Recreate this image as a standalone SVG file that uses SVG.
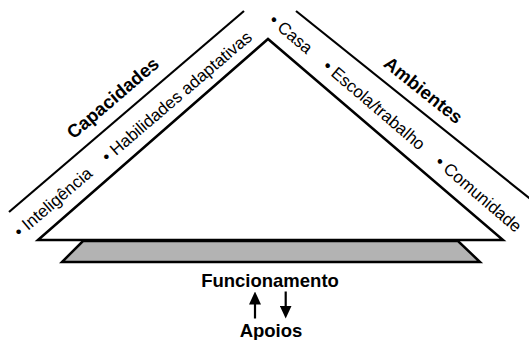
<svg xmlns="http://www.w3.org/2000/svg" width="529" height="340" viewBox="0 0 529 340">
  <style>
    text { font-family: "Liberation Sans", Arial, Helvetica, sans-serif; fill: #000; }
    .reg { font-size: 17px; }
    .bold { font-size: 18.5px; font-weight: bold; }
    .line { stroke: #000; stroke-width: 2.2; fill: none; stroke-linecap: butt; }
    .shape { stroke: #000; stroke-width: 2.5; stroke-linejoin: miter; }
  </style>
  <defs>
    <marker id="arrowhead" markerWidth="13" markerHeight="12" refX="6.5" refY="6" orient="auto-start-reverse" markerUnits="userSpaceOnUse" viewBox="0 0 13 12">
      <path d="M0,0 L13,6 L0,12 Z" fill="#000"/>
    </marker>
  </defs>

  <g id="base">
    <polygon class="shape" points="83,241 458,241 480,262 62,262" fill="#b3b3b3"/>
  </g>

  <g id="triangle">
    <polygon class="shape" points="38,240 268,39 503,240" fill="#fff"/>
  </g>

  <g id="capacidades">
    <line class="line" x1="9" y1="212" x2="244" y2="11"/>
    <text class="bold" x="116.9" y="102.8" text-anchor="middle" transform="rotate(-40.5 116.9 102.8)">Capacidades</text>
    <text class="reg" x="20" y="238" transform="rotate(-40.5 20 238)">• Inteligência</text>
    <text class="reg" x="107.8" y="163.1" transform="rotate(-40.5 107.8 163.1)">• Habilidades adaptativas</text>
  </g>

  <g id="ambientes">
    <line class="line" x1="296" y1="11" x2="531" y2="199.5"/>
    <text class="bold" x="419.4" y="95.1" text-anchor="middle" transform="rotate(38.7 419.4 95.1)">Ambientes</text>
    <text class="reg" x="268.1" y="22" transform="rotate(40.5 268.1 22)">• Casa</text>
    <text class="reg" x="321.8" y="67.9" transform="rotate(40.5 321.8 67.9)">• Escola/trabalho</text>
    <text class="reg" x="434" y="163.7" transform="rotate(40.5 434 163.7)">• Comunidade</text>
  </g>

  <g id="funcionamento">
    <text class="bold" x="270" y="287" text-anchor="middle">Funcionamento</text>
  </g>

  <g id="apoios">
    <text class="bold" x="271" y="337" text-anchor="middle">Apoios</text>
  </g>

  <g id="connectors">
    <line class="line" x1="255" y1="318.5" x2="255" y2="298" stroke-width="2.5" marker-end="url(#arrowhead)"/>
    <line class="line" x1="285.7" y1="291.5" x2="285.7" y2="312" stroke-width="2.5" marker-end="url(#arrowhead)"/>
  </g>
</svg>
